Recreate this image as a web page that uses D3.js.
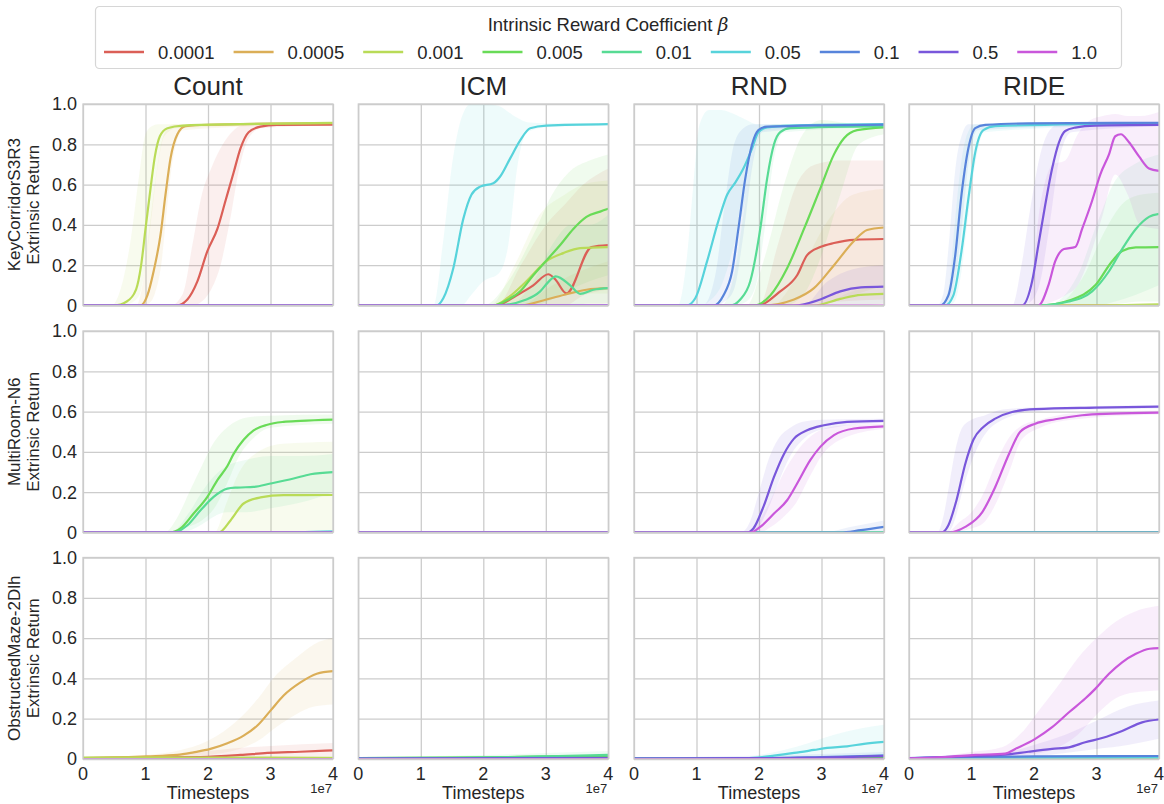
<!DOCTYPE html>
<html>
<head>
<meta charset="utf-8">
<script src="https://cdn.jsdelivr.net/npm/d3@7"></script>
<style>
  body { margin: 0; background: #fff; }
  svg { font-family: "Liberation Sans", Arial, sans-serif; }
</style>
</head>
<body>
<svg id="chart" width="1164" height="804"></svg>
<script>
// categories
const betas = ["0.0001", "0.0005", "0.001", "0.005", "0.01", "0.05", "0.1", "0.5", "1.0"];
const colors = ["#db5f57", "#dbae57", "#b9db57", "#69db57", "#57db94", "#57d3db", "#5784db", "#7957db", "#c957db"];
const methods = ["Count", "ICM", "RND", "RIDE"];
const envs = ["KeyCorridorS3R3", "MultiRoom-N6", "ObstructedMaze-2Dlh"];
const xTicks = [0, 10, 20, 30, 40];          // timesteps, millions
const xTickLabels = ["0", "1", "2", "3", "4"];
const yTicks = [0, 0.2, 0.4, 0.6, 0.8, 1.0];
const yTickLabels = ["0", "0.2", "0.4", "0.6", "0.8", "1.0"];

// series: mean = [timestep (1e6), return], band = [timestep, low, high]
const flatZero = [[0, 0], [40, 0]];

const kcCount = [
  {beta: "0.0001", mean: [[0,0],[15,0],[16.7,0.03],[18.3,0.12],[19.9,0.27],[21.5,0.38],[22.8,0.52],[24.1,0.66],[25.2,0.78],[26.5,0.86],[28.4,0.888],[31,0.896],[40,0.898]],
   band: [[0,0,0],[14,0,0],[16,0,0.06],[17.5,0,0.3],[19,0.02,0.55],[20.5,0.08,0.68],[22,0.2,0.78],[23.5,0.42,0.85],[25,0.68,0.89],[26.5,0.83,0.9],[28.5,0.88,0.9],[40,0.895,0.9]]},
  {beta: "0.0005", mean: [[0,0],[9.2,0],[10.3,0.05],[11.3,0.17],[12.4,0.35],[13.2,0.55],[14,0.73],[15.1,0.85],[16.4,0.89],[20,0.897],[40,0.905]],
   band: [[0,0,0],[8.5,0,0],[9.5,0,0.1],[10.5,0.01,0.35],[11.5,0.06,0.6],[12.5,0.2,0.8],[13.5,0.5,0.88],[14.5,0.75,0.9],[16,0.87,0.9],[40,0.9,0.91]]},
  {beta: "0.001", mean: [[0,0],[5,0],[7,0.02],[8.5,0.08],[9.3,0.2],[10,0.38],[10.8,0.58],[11.5,0.74],[12.3,0.84],[13.5,0.88],[16,0.893],[25,0.9],[40,0.906]],
   band: [[0,0,0],[4.5,0,0],[6,0,0.08],[7.5,0.01,0.3],[9,0.05,0.65],[10,0.2,0.85],[11,0.45,0.89],[12,0.7,0.9],[13,0.84,0.9],[15,0.88,0.9],[40,0.9,0.91]]}
];

const kcICM = [
  {beta: "0.05", mean: [[0,0],[12.5,0],[13.6,0.036],[15.2,0.185],[16.8,0.43],[18.1,0.55],[19.5,0.59],[21.6,0.607],[22.7,0.64],[24.3,0.73],[25.9,0.82],[27.5,0.88],[30.1,0.893],[40,0.9]],
   band: [[0,0,0],[12,0,0],[13.5,0,0.3],[15,0,0.7],[16.5,0,0.93],[18,0.05,1.0],[20,0.12,1.0],[22.5,0.16,0.99],[24,0.3,0.96],[25.5,0.7,0.93],[27,0.86,0.91],[30,0.885,0.905],[40,0.895,0.905]]},
  {beta: "0.005", mean: [[0,0],[21.6,0],[24,0.03],[25.9,0.07],[28,0.15],[30,0.22],[32.3,0.3],[34.4,0.38],[36.5,0.44],[38.7,0.466],[40,0.48]],
   band: [[0,0,0],[20,0,0],[24,0,0.12],[28,0,0.35],[31,0.03,0.55],[34,0.08,0.67],[37,0.12,0.72],[40,0.15,0.75]]},
  {beta: "0.001", mean: [[0,0],[21.6,0],[24,0.04],[26.9,0.12],[30.1,0.22],[32.8,0.26],[35.5,0.285],[40,0.29]],
   band: [[0,0,0],[21,0,0],[25,0,0.2],[29,0.02,0.45],[33,0.05,0.55],[36,0.06,0.6],[40,0.06,0.62]]},
  {beta: "0.0001", mean: [[0,0],[22,0],[25.3,0.05],[28,0.1],[30.4,0.155],[31.5,0.13],[33.3,0.06],[37.3,0.29],[40,0.3]],
   band: [[0,0,0],[22,0,0],[26,0,0.2],[30,0,0.4],[33,0,0.5],[36,0.05,0.6],[40,0.08,0.68]]},
  {beta: "0.01", mean: [[0,0],[22,0],[26.9,0.03],[29.1,0.07],[30.5,0.12],[31.6,0.145],[33.9,0.1],[35.5,0.058],[37.6,0.078],[40,0.086]],
   band: [[0,0,0],[24,0,0],[28,0,0.12],[31,0,0.3],[34,0,0.4],[37,0.01,0.4],[40,0.01,0.45]]},
  {beta: "0.0005", mean: [[0,0],[25.9,0],[30.1,0.03],[33.3,0.056],[36.5,0.078],[40,0.086]],
   band: [[0,0,0],[26,0,0],[30,0,0.08],[34,0,0.15],[40,0.01,0.22]]}
];

const kcRND = [
  {beta: "0.05", mean: [[0,0],[8.4,0],[9.8,0.036],[11.7,0.22],[13.5,0.42],[14.9,0.55],[16.2,0.61],[17.5,0.68],[18.9,0.78],[19.9,0.86],[21.3,0.884],[25,0.893],[40,0.9]],
   band: [[0,0,0],[7,0,0],[8.5,0,0.25],[9.5,0,0.6],[10.5,0,0.9],[12,0.02,0.97],[14,0.1,0.97],[16,0.3,0.95],[18,0.55,0.92],[19.5,0.8,0.9],[21,0.87,0.9],[40,0.895,0.905]]},
  {beta: "0.1", mean: [[0,0],[12.7,0],[14.3,0.05],[15.7,0.17],[16.7,0.38],[17.8,0.63],[18.9,0.8],[19.9,0.87],[21.3,0.888],[40,0.898]],
   band: [[0,0,0],[11,0,0],[13,0,0.15],[14.5,0.02,0.5],[16,0.08,0.8],[17.5,0.35,0.88],[19,0.7,0.9],[20.5,0.86,0.9],[40,0.895,0.9]]},
  {beta: "0.01", mean: [[0,0],[15.4,0],[17,0.03],[18.6,0.12],[20.2,0.38],[21.3,0.63],[22.4,0.8],[23.4,0.86],[25,0.88],[40,0.89]],
   band: [[0,0,0],[14,0,0],[16,0,0.15],[18,0.02,0.55],[19.5,0.1,0.8],[21,0.4,0.88],[22.5,0.75,0.9],[24,0.86,0.9],[40,0.885,0.9]]},
  {beta: "0.005", mean: [[0,0],[19.1,0],[21.8,0.05],[24.5,0.185],[27.2,0.38],[29.8,0.58],[32,0.75],[33.6,0.83],[35.7,0.87],[40,0.884]],
   band: [[0,0,0],[18,0,0],[21,0,0.25],[24,0,0.6],[27,0.05,0.85],[30,0.25,0.92],[33,0.55,0.91],[36,0.8,0.9],[40,0.85,0.9]]},
  {beta: "0.0001", mean: [[0,0],[19.7,0],[23.4,0.07],[26.1,0.15],[27.7,0.25],[29.8,0.29],[32,0.31],[35.2,0.326],[40,0.33]],
   band: [[0,0,0],[20,0,0],[23,0,0.3],[26,0,0.6],[29,0.01,0.7],[33,0.02,0.72],[40,0.03,0.72]]},
  {beta: "0.0005", mean: [[0,0],[20.7,0],[25.6,0.03],[28.8,0.086],[32,0.2],[35.2,0.32],[37.3,0.375],[40,0.387]],
   band: [[0,0,0],[22,0,0],[27,0,0.2],[31,0.01,0.42],[35,0.05,0.55],[40,0.1,0.58]]},
  {beta: "0.5", mean: [[0,0],[25.6,0],[29.8,0.03],[33,0.07],[36.3,0.09],[40,0.094]],
   band: [[0,0,0],[27,0,0],[31,0,0.12],[35,0,0.18],[40,0.01,0.2]]},
  {beta: "0.001", mean: [[0,0],[28.8,0],[33,0.033],[36.3,0.053],[40,0.058]],
   band: [[0,0,0],[30,0,0],[34,0,0.06],[40,0,0.1]]}
];

const kcRIDE = [
  {beta: "0.1", mean: [[0,0],[5,0],[6.3,0.05],[7.4,0.25],[8.4,0.55],[9.5,0.78],[10.6,0.88],[12.2,0.896],[19.1,0.904],[40,0.907]],
   band: [[0,0,0],[4.5,0,0],[5.5,0,0.06],[6.5,0.02,0.35],[7.5,0.15,0.7],[8.5,0.4,0.85],[9.5,0.7,0.9],[11,0.87,0.9],[40,0.9,0.91]]},
  {beta: "0.05", mean: [[0,0],[5.8,0],[7.1,0.05],[8.4,0.27],[9.5,0.53],[10.6,0.76],[11.9,0.87],[13.8,0.89],[40,0.905]],
   band: [[0,0,0],[5,0,0],[6.3,0,0.08],[7.3,0.02,0.4],[8.3,0.15,0.7],[9.3,0.4,0.85],[10.5,0.68,0.9],[12,0.86,0.9],[40,0.9,0.91]]},
  {beta: "0.5", mean: [[0,0],[18.1,0],[19.7,0.12],[20.7,0.3],[21.8,0.5],[22.9,0.68],[24,0.81],[25,0.866],[26.6,0.883],[29.8,0.893],[40,0.896]],
   band: [[0,0,0],[16.5,0,0],[18,0,0.2],[19.5,0.02,0.5],[21,0.12,0.75],[22.5,0.4,0.87],[24,0.72,0.9],[26,0.86,0.9],[40,0.89,0.9]]},
  {beta: "1.0", mean: [[0,0],[20.7,0],[22.3,0.1],[23.4,0.22],[24.8,0.28],[26.6,0.29],[27.7,0.38],[29.3,0.52],[30.6,0.65],[32,0.75],[33,0.84],[33.9,0.85],[35.2,0.81],[36.8,0.74],[38.4,0.68],[40,0.668]],
   band: [[0,0,0],[19,0,0],[21,0,0.5],[23,0.02,0.7],[25,0.05,0.72],[27,0.1,0.85],[29,0.25,0.92],[31,0.45,0.94],[33,0.65,0.95],[35,0.55,0.94],[37,0.4,0.94],[40,0.38,0.96]]},
  {beta: "0.01", mean: [[0,0],[20.2,0],[25.6,0.02],[29.3,0.07],[32,0.17],[34.1,0.28],[36.3,0.38],[38.4,0.44],[40,0.455]],
   band: [[0,0,0],[22,0,0],[27,0,0.15],[30,0,0.4],[33,0.02,0.62],[36,0.05,0.7],[40,0.1,0.75]]},
  {beta: "0.005", mean: [[0,0],[20.7,0],[26.1,0.03],[29.8,0.1],[32.5,0.22],[34.1,0.27],[36.3,0.288],[40,0.29]],
   band: [[0,0,0],[23,0,0],[28,0,0.15],[31,0,0.35],[34,0.01,0.5],[37,0.02,0.55],[40,0.02,0.56]]},
  {beta: "0.001", mean: [[0,0],[28,0],[40,0.006]], band: []}
];

const mrCount = [
  {beta: "0.005", mean: [[0,0],[14,0],[15.6,0.02],[17.7,0.094],[19.9,0.177],[21.5,0.26],[23.1,0.33],[24.1,0.39],[25.7,0.46],[27.3,0.507],[29.5,0.535],[32.1,0.549],[34.8,0.554],[40,0.56]],
   band: [[0,0,0],[13,0,0],[15,0.01,0.07],[17,0.03,0.2],[19,0.06,0.33],[21,0.12,0.45],[23,0.24,0.52],[25,0.38,0.56],[27,0.46,0.575],[30,0.52,0.58],[40,0.54,0.585]]},
  {beta: "0.01", mean: [[0,0],[14.5,0],[16.7,0.036],[18.8,0.11],[20.9,0.177],[23.1,0.218],[24.7,0.223],[27.3,0.226],[30,0.243],[33.7,0.268],[36.4,0.289],[40,0.3]],
   band: [[0,0,0],[14,0,0],[17,0.01,0.1],[19,0.04,0.2],[21,0.08,0.28],[23,0.1,0.33],[26,0.1,0.36],[30,0.12,0.38],[35,0.15,0.38],[40,0.2,0.39]]},
  {beta: "0.001", mean: [[0,0],[21.7,0],[23.6,0.06],[25.7,0.144],[28.4,0.174],[32.1,0.185],[40,0.186]],
   band: [[0,0,0],[21,0,0],[23,0,0.15],[25,0,0.3],[28,0,0.4],[32,0,0.44],[40,0.01,0.45]]},
  {beta: "0.05", mean: [[0,0],[30,0],[40,0.006]], band: []}
];

const mrICM = [];

const mrRND = [
  {beta: "0.5", mean: [[0,0],[18.1,0],[19.1,0.02],[20.7,0.127],[22.4,0.276],[24,0.39],[25.6,0.466],[27.7,0.507],[30.4,0.532],[34.1,0.549],[40,0.554]],
   band: [[0,0,0],[17,0,0],[18.5,0,0.05],[20,0.03,0.2],[21.5,0.12,0.36],[23,0.24,0.46],[25,0.38,0.52],[27,0.46,0.55],[30,0.51,0.56],[40,0.545,0.565]]},
  {beta: "1.0", mean: [[0,0],[18.6,0],[20.2,0.028],[22.4,0.094],[24.5,0.16],[26.1,0.243],[28.2,0.359],[29.8,0.425],[32,0.483],[35.2,0.516],[40,0.527]],
   band: [[0,0,0],[18,0,0],[20,0,0.06],[22,0.03,0.17],[24,0.08,0.3],[26,0.15,0.4],[28,0.27,0.47],[30,0.38,0.51],[33,0.46,0.53],[40,0.515,0.54]]},
  {beta: "0.1", mean: [[0,0],[33,0],[36.3,0.012],[40,0.028]],
   band: [[0,0,0],[30,0,0],[35,0,0.03],[40,0,0.06]]}
];

const mrRIDE = [
  {beta: "0.5", mean: [[0,0],[5.2,0],[6.3,0.036],[7.6,0.16],[9,0.34],[10.3,0.46],[11.9,0.524],[13.8,0.565],[16.5,0.598],[20.2,0.612],[29.8,0.62],[40,0.625]],
   band: [[0,0,0],[4.5,0,0],[5.5,0,0.08],[6.5,0.01,0.25],[7.5,0.08,0.42],[8.5,0.2,0.52],[10,0.35,0.56],[12,0.48,0.58],[15,0.56,0.61],[20,0.6,0.62],[40,0.615,0.632]]},
  {beta: "1.0", mean: [[0,0],[6.3,0],[9,0.028],[11.7,0.1],[13.8,0.226],[16,0.39],[17.8,0.5],[20.2,0.54],[23.4,0.562],[27.7,0.582],[32.5,0.59],[40,0.595]],
   band: [[0,0,0],[6,0,0],[8,0.005,0.05],[10,0.02,0.1],[12,0.05,0.2],[14,0.15,0.35],[16,0.3,0.47],[18,0.46,0.53],[21,0.52,0.56],[26,0.56,0.59],[40,0.585,0.605]]}
];

const omCount = [
  {beta: "0.0005", mean: [[0,0.005],[10.3,0.013],[15.1,0.02],[17.7,0.033],[20.4,0.05],[23.1,0.078],[25.7,0.116],[27.9,0.166],[30,0.24],[32.1,0.315],[34.8,0.38],[37.4,0.423],[40,0.436]],
   band: [[0,0.003,0.007],[10,0.008,0.02],[15,0.01,0.04],[20,0.02,0.09],[25,0.05,0.2],[28,0.09,0.3],[31,0.16,0.42],[34,0.22,0.5],[37,0.26,0.57],[40,0.27,0.6]]},
  {beta: "0.0001", mean: [[0,0.005],[18.8,0.01],[25.2,0.02],[29.5,0.03],[34.8,0.036],[40,0.043]],
   band: [[0,0.003,0.007],[15,0.005,0.02],[20,0.008,0.04],[30,0.01,0.065],[40,0.012,0.08]]},
  {beta: "0.001", mean: [[0,0.007],[20,0.007],[40,0.006]], band: []}
];

const omICM = [
  {beta: "0.01", mean: [[0,0.004],[15,0.006],[25,0.01],[32,0.015],[40,0.02]],
   band: [[0,0,0.01],[20,0.003,0.02],[30,0.005,0.03],[40,0.005,0.04]]},
  {beta: "0.005", mean: [[0,0.005],[20,0.008],[30,0.012],[40,0.015]], band: []},
  {beta: "0.1", mean: [[0,0.002],[40,0.006]], band: []},
  {beta: "0.5", mean: [[0,0.002],[40,0.004]], band: []}
];

const omRND = [
  {beta: "0.05", mean: [[0,0.003],[17,0.003],[19.1,0.006],[22.4,0.017],[25.6,0.03],[28.8,0.045],[30.9,0.055],[34.1,0.063],[36.8,0.075],[40,0.085]],
   band: [[0,0,0.005],[17,0,0.006],[20,0.002,0.02],[24,0.005,0.045],[28,0.01,0.08],[32,0.015,0.12],[36,0.02,0.15],[40,0.025,0.17]]},
  {beta: "0.1", mean: [[0,0.002],[20,0.004],[30,0.01],[40,0.018]],
   band: [[0,0,0.005],[30,0.003,0.025],[40,0.005,0.035]]},
  {beta: "0.5", mean: [[0,0.002],[25,0.005],[40,0.014]], band: []},
  {beta: "0.005", mean: [[0,0.004],[40,0.006]], band: []}
];

const omRIDE = [
  {beta: "1.0", mean: [[0,0.003],[5.8,0.01],[10.6,0.02],[15.4,0.027],[17,0.05],[20.2,0.1],[22.9,0.158],[25.6,0.232],[28.2,0.3],[29.8,0.348],[32,0.423],[34.1,0.48],[36.3,0.522],[38.5,0.547],[40,0.55]],
   band: [[0,0,0.006],[5,0.003,0.015],[10,0.01,0.035],[15,0.012,0.06],[18,0.02,0.13],[21,0.03,0.25],[24,0.06,0.37],[27,0.12,0.5],[30,0.22,0.6],[33,0.3,0.68],[36,0.33,0.73],[40,0.34,0.76]]},
  {beta: "0.5", mean: [[0,0.003],[8.4,0.013],[15.4,0.021],[19.1,0.036],[22.9,0.05],[25.6,0.058],[28.2,0.083],[30.9,0.104],[34.1,0.139],[37.3,0.182],[40,0.196]],
   band: [[0,0,0.006],[10,0.005,0.02],[15,0.01,0.03],[20,0.015,0.07],[25,0.03,0.12],[30,0.05,0.19],[35,0.07,0.26],[40,0.1,0.29]]},
  {beta: "0.1", mean: [[0,0.005],[10,0.01],[20,0.013],[40,0.015]], band: []},
  {beta: "0.05", mean: [[0,0.004],[40,0.01]], band: []},
  {beta: "0.01", mean: [[0,0.004],[40,0.006]], band: []}
];

const panelRows = [
  [kcCount, kcICM, kcRND, kcRIDE],
  [mrCount, mrICM, mrRND, mrRIDE],
  [omCount, omICM, omRND, omRIDE]
];

// layout
const colX = [83, 358.3, 634, 909];
const rowY = [104, 331, 557.5];
const panelW = 250, panelH = 201.5;
const gridColor = "#cccccc", textColor = "#262626";

const svg = d3.select("#chart");
const color = d3.scaleOrdinal().domain(betas).range(colors);
const x = d3.scaleLinear().domain([0, 40]).range([0, panelW]);
const y = d3.scaleLinear().domain([0, 1]).range([panelH, 0]);

const line = d3.line().x(d => x(d[0])).y(d => y(d[1])).curve(d3.curveMonotoneX);
const area = d3.area().x(d => x(d[0])).y0(d => y(d[1])).y1(d => y(d[2])).curve(d3.curveMonotoneX);

svg.append("defs").append("clipPath").attr("id", "panelClip")
  .append("rect").attr("width", panelW).attr("height", panelH);

panelRows.forEach(function(row, r){
  row.forEach(function(series, c){
    const g = svg.append("g").attr("transform", `translate(${colX[c]},${rowY[r]})`);

    // grid
    g.append("g").attr("transform", `translate(0,${panelH})`)
      .call(d3.axisBottom(x).tickValues(xTicks).tickSize(-panelH).tickFormat(""))
      .call(a => a.select(".domain").remove())
      .call(a => a.selectAll("line").attr("stroke", gridColor).attr("stroke-width", 1.3));
    g.append("g")
      .call(d3.axisLeft(y).tickValues(yTicks).tickSize(-panelW).tickFormat(""))
      .call(a => a.select(".domain").remove())
      .call(a => a.selectAll("line").attr("stroke", gridColor).attr("stroke-width", 1.3));

    const plot = g.append("g").attr("clip-path", "url(#panelClip)");
    const byBeta = new Map(series.map(s => [s.beta, s]));

    betas.forEach(function(b){
      const s = byBeta.get(b);
      if (s && s.band.length) {
        plot.append("path").attr("d", area(s.band))
          .attr("fill", color(b)).attr("fill-opacity", 0.1);
      }
    });
    betas.forEach(function(b){
      const s = byBeta.get(b);
      plot.append("path").attr("d", line(s ? s.mean : flatZero))
        .attr("fill", "none").attr("stroke", color(b)).attr("stroke-width", 2.2);
    });

    g.append("rect").attr("width", panelW).attr("height", panelH)
      .attr("fill", "none").attr("stroke", gridColor).attr("stroke-width", 1.3);

    if (r == 0) {
      g.append("text").attr("x", panelW/2).attr("y", -9)
        .attr("text-anchor", "middle").attr("font-size", 26).attr("fill", textColor)
        .text(methods[c]);
    }
    if (c == 0) {
      g.selectAll(".ytl").data(yTicks).enter().append("text")
        .attr("x", -6).attr("y", d => y(d)).attr("dy", "0.35em")
        .attr("text-anchor", "end").attr("font-size", 18).attr("fill", textColor)
        .text((d, i) => yTickLabels[i]);
      const lab = g.append("text").attr("transform", `translate(-59,${panelH/2}) rotate(-90)`)
        .attr("text-anchor", "middle").attr("font-size", 17).attr("fill", textColor);
      lab.append("tspan").attr("x", 0).attr("dy", "-0.25em").text(envs[r]);
      lab.append("tspan").attr("x", 0).attr("dy", "1.15em").text("Extrinsic Return");
    }
    if (r == panelRows.length - 1) {
      g.selectAll(".xtl").data(xTicks).enter().append("text")
        .attr("x", d => x(d)).attr("y", panelH + 21)
        .attr("text-anchor", "middle").attr("font-size", 18).attr("fill", textColor)
        .text((d, i) => xTickLabels[i]);
      g.append("text").attr("x", panelW/2).attr("y", panelH + 40)
        .attr("text-anchor", "middle").attr("font-size", 18).attr("fill", textColor)
        .text("Timesteps");
      g.append("text").attr("x", panelW - 1).attr("y", panelH + 34)
        .attr("text-anchor", "end").attr("font-size", 13).attr("fill", textColor)
        .text("1e7");
    }
  });
});

// legend
const legend = svg.append("g");
legend.append("rect").attr("x", 95.5).attr("y", 6.5).attr("width", 1026).attr("height", 62)
  .attr("rx", 4).attr("fill", "#fff").attr("stroke", "#d6d6d6").attr("stroke-width", 1.2);
const title = legend.append("text").attr("x", 608).attr("y", 31)
  .attr("text-anchor", "middle").attr("font-size", 18.5).attr("fill", textColor);
title.append("tspan").text("Intrinsic Reward Coefficient ");
title.append("tspan").attr("font-style", "italic").attr("font-family", "DejaVu Serif, serif").text("β");

let lx = 104;
betas.forEach(function(b){
  legend.append("line").attr("x1", lx).attr("x2", lx + 40).attr("y1", 52).attr("y2", 52)
    .attr("stroke", color(b)).attr("stroke-width", 2.5);
  const t = legend.append("text").attr("x", lx + 54).attr("y", 58.5)
    .attr("font-size", 18.5).attr("fill", textColor).text(b);
  lx += 54 + t.node().getComputedTextLength() + 19;
});
</script>
</body>
</html>
